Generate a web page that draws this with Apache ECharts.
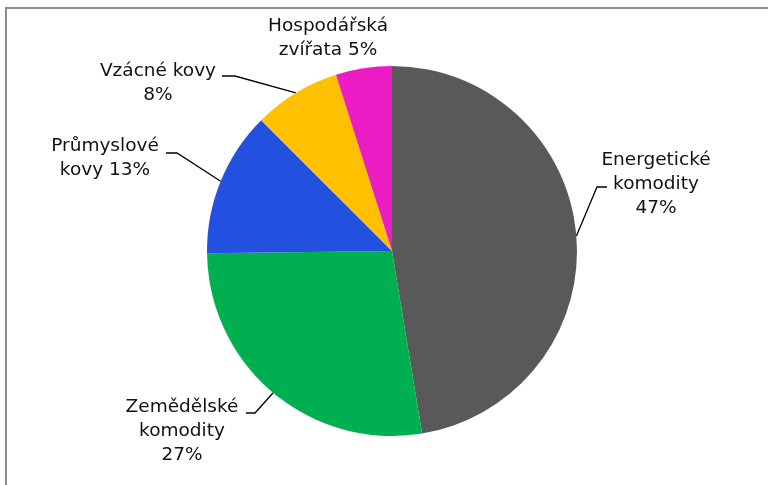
<!DOCTYPE html>
<html>
<head>
<meta charset="utf-8">
<script src="https://cdn.jsdelivr.net/npm/echarts@6/dist/echarts.min.js"></script>
<style>
  html, body { margin: 0; padding: 0; background: #fff; }
  #chart { width: 769px; height: 485px; }
</style>
</head>
<body>
<div id="chart"></div>
<script>
// data (share of the total, %)
const categories = ['Energetické\nkomodity', 'Zemědělské\nkomodity', 'Průmyslové\nkovy', 'Vzácné kovy', 'Hospodářská\nzvířata']
const values = [47.4, 27.4, 12.7, 7.6, 4.9]
// what goes between the name and the percentage in each label
const labelJoin = ['\n', '\n', ' ', '\n', ' ']

const colors = ['#595959', '#00b050', '#2350df', '#ffc000', '#eb1cc4']

// where the label blocks sit, and where their leader lines bend (px)
const labelPos = [
  { x: 656, y: 184, turn: [597, 187], end: [607, 187] },
  { x: 182, y: 431, turn: [255, 413], end: [246, 413] },
  { x: 105, y: 158, turn: [177, 153], end: [166, 153] },
  { x: 158, y: 83, turn: [235, 76], end: [222, 76] },
  { x: 328, y: 38, turn: null, end: null }
]

const chart = echarts.init(document.getElementById('chart'))

const option = {
  animation: false,
  backgroundColor: '#fff',
  graphic: [
    {
      type: 'polyline',
      shape: { points: [[6, 500], [6, 8], [768, 8]] },
      style: { stroke: '#8c8c8c', lineWidth: 2, fill: null },
      silent: true
    }
  ],
  series: [
    {
      type: 'pie',
      center: [392, 251],
      radius: 185,
      startAngle: 90,
      clockwise: true,
      avoidLabelOverlap: false,
      itemStyle: { borderWidth: 0 },
      label: {
        show: true,
        position: 'outside',
        fontFamily: 'DejaVu Sans',
        fontSize: 18.5,
        lineHeight: 24,
        color: '#111',
        align: 'center',
        formatter: (p) => p.name + labelJoin[p.dataIndex] + Math.round(p.percent) + '%'
      },
      labelLine: {
        show: true,
        length: 10,
        length2: 10,
        smooth: false,
        lineStyle: { color: '#000', width: 1.3 }
      },
      labelLayout: (params) => {
        const pos = labelPos[params.dataIndex]
        const res = { x: pos.x, y: pos.y, align: 'center', verticalAlign: 'middle' }
        if (pos.turn && params.labelLinePoints) {
          res.labelLinePoints = [params.labelLinePoints[0], pos.turn, pos.end]
        }
        return res
      },
      data: categories.map((name, i) => ({
        name: name,
        value: values[i],
        itemStyle: { color: colors[i] },
        labelLine: { show: labelPos[i].turn !== null }
      }))
    }
  ]
}

chart.setOption(option)
</script>
</body>
</html>
